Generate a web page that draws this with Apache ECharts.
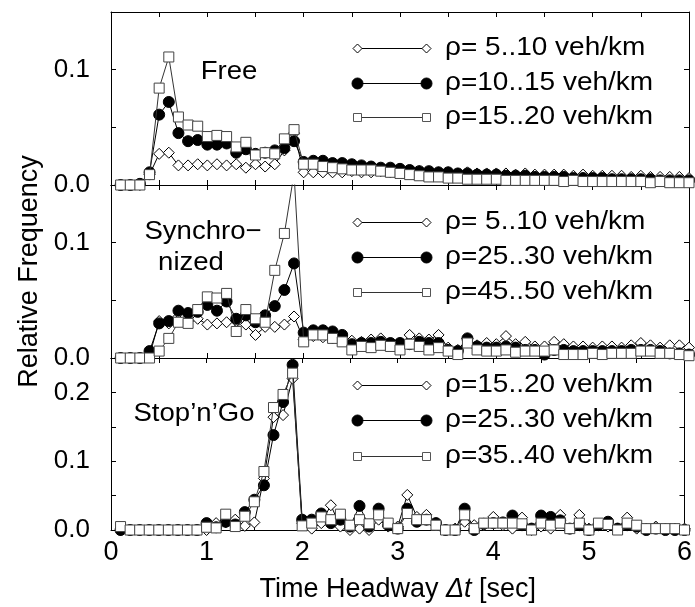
<!DOCTYPE html>
<html>
<head>
<meta charset="utf-8">
<script src="https://cdn.jsdelivr.net/npm/echarts@6/dist/echarts.min.js"></script>
<style>
  html, body { margin: 0; padding: 0; background: #fff; }
  #chart { width: 695px; height: 607px; }
</style>
</head>
<body>
<div id="chart"></div>
<script>
// Bin centres of the time-headway histograms [sec]
const headway = [
  0.1, 0.2, 0.3, 0.4, 0.5, 0.6, 0.7, 0.8, 0.9, 1.0,
  1.1, 1.2, 1.3, 1.4, 1.5, 1.6, 1.7, 1.8, 1.9, 2.0,
  2.1, 2.2, 2.3, 2.4, 2.5, 2.6, 2.7, 2.8, 2.9, 3.0,
  3.1, 3.2, 3.3, 3.4, 3.5, 3.6, 3.7, 3.8, 3.9, 4.0,
  4.1, 4.2, 4.3, 4.4, 4.5, 4.6, 4.7, 4.8, 4.9, 5.0,
  5.1, 5.2, 5.3, 5.4, 5.5, 5.6, 5.7, 5.8, 5.9, 6.0
];

// Free flow
const freeRho5_10 = [
  0, 0, 0, 0.009, 0.027, 0.028, 0.017, 0.017, 0.018, 0.017,
  0.018, 0.017, 0.018, 0.015, 0.018, 0.016, 0.018, 0.030, 0.045, 0.011,
  0.011, 0.011, 0.011, 0.011, 0.012, 0.011, 0.011, 0.012, 0.011, 0.011,
  0.011, 0.012, 0.011, 0.011, 0.011, 0.010, 0.011, 0.010, 0.010, 0.010,
  0.010, 0.009, 0.010, 0.009, 0.009, 0.009, 0.009, 0.008, 0.009, 0.008,
  0.008, 0.008, 0.008, 0.007, 0.008, 0.007, 0.007, 0.007, 0.007, 0.006
];
const freeRho10_15 = [
  0, 0, 0.001, 0.011, 0.061, 0.072, 0.045, 0.038, 0.039, 0.035,
  0.035, 0.036, 0.028, 0.031, 0.027, 0.028, 0.030, 0.032, 0.038, 0.020,
  0.021, 0.021, 0.019, 0.019, 0.018, 0.017, 0.016, 0.015, 0.015, 0.014,
  0.013, 0.012, 0.012, 0.011, 0.011, 0.010, 0.010, 0.009, 0.009, 0.009,
  0.008, 0.008, 0.008, 0.007, 0.007, 0.007, 0.007, 0.006, 0.006, 0.006,
  0.006, 0.005, 0.005, 0.005, 0.005, 0.005, 0.004, 0.004, 0.004, 0.004
];
const freeRho15_20 = [
  0, 0, 0, 0.009, 0.084, 0.111, 0.059, 0.052, 0.051, 0.042,
  0.043, 0.042, 0.033, 0.037, 0.026, 0.028, 0.027, 0.040, 0.048, 0.018,
  0.018, 0.016, 0.015, 0.014, 0.013, 0.013, 0.013, 0.012, 0.011, 0.010,
  0.009, 0.008, 0.007, 0.007, 0.006, 0.006, 0.005, 0.005, 0.005, 0.005,
  0.004, 0.004, 0.004, 0.004, 0.004, 0.004, 0.003, 0.004, 0.003, 0.003,
  0.003, 0.003, 0.003, 0.003, 0.003, 0.002, 0.003, 0.002, 0.002, 0.002
];

// Synchronized flow
const syncRho5_10 = [
  0, 0, 0, 0.002, 0.032, 0.030, 0.033, 0.032, 0.034, 0.029,
  0.030, 0.031, 0.032, 0.029, 0.020, 0.027, 0.027, 0.029, 0.036, 0.016,
  0.019, 0.018, 0.017, 0.016, 0.015, 0.014, 0.016, 0.017, 0.012, 0.010,
  0.020, 0.017, 0.016, 0.020, 0.009, 0.007, 0.017, 0.011, 0.013, 0.012,
  0.019, 0.012, 0.014, 0.010, 0.010, 0.014, 0.012, 0.010, 0.010, 0.009,
  0.010, 0.010, 0.009, 0.011, 0.013, 0.011, 0.009, 0.011, 0.011, 0.009
];
const syncRho25_30 = [
  0, 0, 0, 0.006, 0.030, 0.032, 0.041, 0.039, 0.040, 0.046,
  0.041, 0.049, 0.034, 0.037, 0.031, 0.037, 0.045, 0.059, 0.082, 0.022,
  0.024, 0.024, 0.023, 0.020, 0.012, 0.013, 0.013, 0.014, 0.013, 0.013,
  0.012, 0.014, 0.013, 0.013, 0.007, 0.006, 0.017, 0.010, 0.009, 0.009,
  0.010, 0.009, 0.007, 0.007, 0.003, 0.007, 0.007, 0.006, 0.006, 0.006,
  0.006, 0.006, 0.006, 0.007, 0.007, 0.007, 0.006, 0.004, 0.004, 0.003
];
const syncRho45_50 = [
  0, 0, 0, 0, 0.006, 0.017, 0.031, 0.030, 0.042, 0.053,
  0.052, 0.056, 0.023, 0.042, 0.034, 0.031, 0.076, 0.108, 0.160, 0.014,
  0.020, 0.020, 0.017, 0.014, 0.007, 0.010, 0.009, 0.011, 0.010, 0.007,
  0.012, 0.010, 0.007, 0.009, 0.006, 0.003, 0.013, 0.007, 0.006, 0.006,
  0.007, 0.005, 0.006, 0.006, 0.006, 0.007, 0.003, 0.003, 0.003, 0.004,
  0.003, 0.004, 0.004, 0.004, 0.006, 0.006, 0.004, 0.004, 0.003, 0.002
];

// Stop-and-go traffic
const stopRho15_20 = [
  0, 0, 0, 0, 0, 0, 0, 0, 0, 0,
  0.010, 0.011, 0.015, 0.006, 0.011, 0.075, 0.164, 0.167, 0.220, 0.010,
  0.002, 0.010, 0.036, 0.005, 0, 0.002, 0, 0.015, 0.005, 0.005,
  0.051, 0.019, 0.022, 0.007, 0, 0.002, 0.012, 0.007, 0.007, 0.019,
  0.007, 0.002, 0.018, 0, 0.005, 0.002, 0.022, 0.002, 0.022, 0.002,
  0.007, 0.005, 0.002, 0.018, 0.002, 0.002, 0.005, 0.002, 0.002, 0.002
];
const stopRho25_30 = [
  0, 0, 0, 0, 0, 0, 0, 0, 0, 0.010,
  0.004, 0.012, 0.008, 0.026, 0.044, 0.065, 0.138, 0.186, 0.240, 0.015,
  0.015, 0.024, 0.010, 0.015, 0.005, 0.035, 0.005, 0.031, 0.007, 0.002,
  0.031, 0.012, 0.015, 0.010, 0, 0, 0.031, 0, 0.009, 0.010,
  0.011, 0.021, 0.007, 0.002, 0.021, 0.019, 0.014, 0.002, 0.007, 0,
  0.007, 0.012, 0.002, 0.007, 0.005, 0, 0.002, 0, 0, 0
];
const stopRho35_40 = [
  0.005, 0, 0, 0, 0, 0, 0, 0, 0, 0.004,
  0.003, 0.023, 0.005, 0.020, 0.041, 0.085, 0.178, 0.197, 0.228, 0.006,
  0.010, 0.019, 0.015, 0.023, 0.007, 0.015, 0.009, 0.022, 0.010, 0.002,
  0.024, 0.015, 0.015, 0.007, 0, 0, 0.022, 0.002, 0.010, 0.010,
  0.010, 0.010, 0.009, 0, 0.010, 0.007, 0.010, 0.002, 0.010, 0,
  0.010, 0.008, 0, 0.010, 0.007, 0.002, 0.002, 0.002, 0.002, 0
];

// Panel annotations and legend entries
const panelNames = [['Free'], ['Synchro\u2212', 'nized'], ['Stop\u2019n\u2019Go']];
const legendLabels = [
  ['\u03c1= 5..10 veh/km', '\u03c1=10..15 veh/km', '\u03c1=15..20 veh/km'],
  ['\u03c1= 5..10 veh/km', '\u03c1=25..30 veh/km', '\u03c1=45..50 veh/km'],
  ['\u03c1=15..20 veh/km', '\u03c1=25..30 veh/km', '\u03c1=35..40 veh/km']
];
const panelSeries = [
  [freeRho5_10, freeRho10_15, freeRho15_20],
  [syncRho5_10, syncRho25_30, syncRho45_50],
  [stopRho15_20, stopRho25_30, stopRho35_40]
];
const yMax = [0.15, 0.15, 0.25];
const xTickLabels = ['0', '1', '2', '3', '4', '5', '6'];

const FONT = '"Liberation Sans", Arial, Helvetica, sans-serif';

// Layout of the three stacked panels
const grids = [
  { left: 111, right: 6, top: 12, height: 173 },
  { left: 111, right: 6, top: 185, height: 173 },
  { left: 111, right: 6, top: 358, height: 172 }
];

// Marker styles: open diamond, filled circle, open square
const markStyles = [
  { symbol: 'diamond', symbolSize: 11, fill: '#fff', border: '#000', line: '#000' },
  { symbol: 'circle', symbolSize: 11, fill: '#000', border: '#000', line: '#000' },
  { symbol: 'rect', symbolSize: 10, fill: '#fff', border: '#444', line: '#333' }
];

const xAxes = [];
const yAxes = [];
const series = [];

grids.forEach((g, p) => {
  const last = p === grids.length - 1;
  const tickCommon = { inside: true, length: 5, lineStyle: { color: '#000', width: 1 } };
  const lineCommon = { show: true, onZero: false, lineStyle: { color: '#000', width: 1 } };
  // bottom x axis
  xAxes.push({
    type: 'value', gridIndex: p, position: 'bottom', min: 0, max: 6, interval: 0.5,
    axisLine: lineCommon, axisTick: tickCommon, splitLine: { show: false },
    axisLabel: {
      show: last, margin: 9, color: '#000', fontFamily: FONT, fontSize: 27,
      formatter: v => {
        const k = Math.round(v);
        return Math.abs(v - k) < 1e-6 ? xTickLabels[k] : '';
      }
    },
    name: last ? '{n|Time Headway }{i|\u0394t}{n| [sec]}' : '',
    nameLocation: 'middle', nameGap: 46,
    nameTextStyle: {
      rich: {
        n: { fontFamily: FONT, fontSize: 27, color: '#000' },
        i: { fontFamily: FONT, fontSize: 27, fontStyle: 'italic', color: '#000' }
      }
    }
  });
  // top x axis (frame with ticks)
  xAxes.push({
    type: 'value', gridIndex: p, position: 'top', min: 0, max: 6, interval: 0.5,
    axisLine: lineCommon, axisTick: tickCommon, splitLine: { show: false },
    axisLabel: { show: false }
  });
  // left y axis
  yAxes.push({
    type: 'value', gridIndex: p, position: 'left', min: 0, max: yMax[p], interval: 0.05,
    axisLine: lineCommon, axisTick: tickCommon, splitLine: { show: false },
    axisLabel: {
      margin: 21, color: '#000', fontFamily: FONT, fontSize: 26, padding: [0, 0, 6, 0],
      formatter: v => {
        const k = Math.round(v * 10);
        return Math.abs(v * 10 - k) < 1e-6 ? (k / 10).toFixed(1) : '';
      }
    },
    name: p === 1 ? 'Relative Frequency' : '',
    nameLocation: 'middle', nameGap: 68,
    nameTextStyle: { fontFamily: FONT, fontSize: 27, color: '#000' }
  });
  // right y axis (frame with ticks)
  yAxes.push({
    type: 'value', gridIndex: p, position: 'right', min: 0, max: yMax[p], interval: 0.05,
    axisLine: lineCommon, axisTick: tickCommon, splitLine: { show: false },
    axisLabel: { show: false }
  });

  panelSeries[p].forEach((arr, s) => {
    const st = markStyles[s];
    series.push({
      type: 'line',
      name: legendLabels[p][s],
      xAxisIndex: p * 2,
      yAxisIndex: p * 2,
      data: headway.map((t, i) => [t, arr[i]]),
      symbol: st.symbol,
      symbolSize: st.symbolSize,
      showAllSymbol: true,
      clip: true,
      silent: true,
      z: 2 + s,
      lineStyle: { color: st.line, width: 1 },
      itemStyle: { color: st.fill, borderColor: st.border, borderWidth: 1, opacity: 1 },
      emphasis: { disabled: true }
    });
  });
});

// Legends and panel captions
const graphic = [];
const legendRows = [[48, 83, 117], [222, 257, 292], [385, 420, 456]];
const legX1 = 357, legX2 = 426, legTextX = 445;

function legendSymbol(kind, cx, cy) {
  if (kind === 0) {
    return { type: 'polygon', shape: { points: [[cx, cy - 4.5], [cx + 4.5, cy], [cx, cy + 4.5], [cx - 4.5, cy]] },
      style: { fill: '#fff', stroke: '#000', lineWidth: 1 }, z: 20 };
  }
  if (kind === 1) {
    return { type: 'circle', shape: { cx: cx, cy: cy, r: 5.5 }, style: { fill: '#000', stroke: '#000' }, z: 20 };
  }
  return { type: 'rect', shape: { x: cx - 4, y: cy - 4, width: 8, height: 8 },
    style: { fill: '#fff', stroke: '#555', lineWidth: 1 }, z: 20 };
}

legendLabels.forEach((labels, p) => {
  labels.forEach((lab, s) => {
    const y = legendRows[p][s];
    graphic.push({ type: 'line', shape: { x1: legX1, y1: y + 0.5, x2: legX2, y2: y + 0.5 },
      style: { stroke: s === 2 ? '#333' : '#000', lineWidth: 1 }, z: 19 });
    graphic.push(legendSymbol(s, legX1 + 0.5, y + 0.5));
    graphic.push(legendSymbol(s, legX2 + 0.5, y + 0.5));
    graphic.push({ type: 'text', x: legTextX, y: y, scaleX: 1.12, z: 20,
      style: { text: lab, fontFamily: FONT, fontSize: 25, fill: '#000', textAlign: 'left', textVerticalAlign: 'middle' } });
  });
});

const captionPos = [[[229, 72]], [[203, 232], [191, 263]], [[194, 414]]];
panelNames.forEach((lines, p) => {
  lines.forEach((txt, k) => {
    const pos = captionPos[p][k];
    graphic.push({ type: 'text', x: pos[0], y: pos[1], scaleX: 1.06, z: 20,
      style: { text: txt, fontFamily: FONT, fontSize: 26, fill: '#000', textAlign: 'center', textVerticalAlign: 'middle' } });
  });
});

const chart = echarts.init(document.getElementById('chart'), null, { renderer: 'canvas' });
chart.setOption({
  animation: false,
  backgroundColor: '#fff',
  grid: grids,
  xAxis: xAxes,
  yAxis: yAxes,
  series: series,
  graphic: graphic
});
</script>
</body>
</html>
